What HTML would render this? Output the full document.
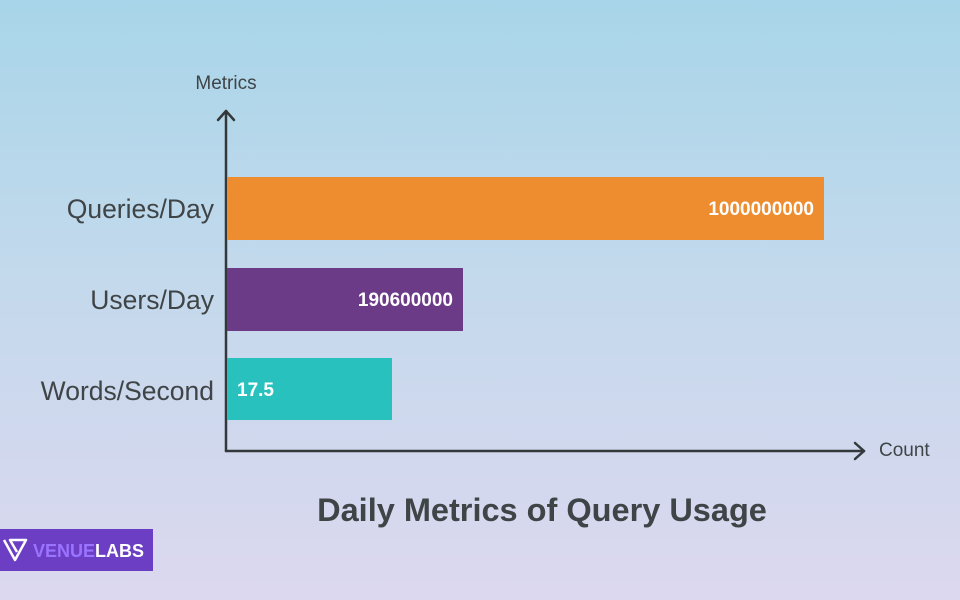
<!DOCTYPE html>
<html><head><style>
html,body{margin:0;padding:0}
body{width:960px;height:600px;overflow:hidden;background:linear-gradient(180deg,#a8d5e9 0%,#c3d9ec 45%,#dcd8ef 100%);font-family:"Liberation Sans",sans-serif;position:relative}
</style></head><body>
<svg width="960" height="600" style="position:absolute;left:0;top:0">
<g stroke="#33383b" stroke-width="2.5" fill="none" stroke-linecap="round" stroke-linejoin="round">
<line x1="226" y1="111" x2="226" y2="451"/>
<polyline points="218,120 226,111 234,120"/>
<line x1="226" y1="451" x2="864" y2="451"/>
<polyline points="855,443 864,451 855,459"/>
</g>
<rect x="227" y="177" width="597" height="63" fill="#ee8d30"/>
<rect x="227" y="268" width="236" height="63" fill="#6c3b88"/>
<rect x="227" y="358" width="165" height="62" fill="#29c1bd"/>
<g font-family="Liberation Sans, sans-serif" font-weight="bold" font-size="19" fill="#fff">
<text x="814" y="215" text-anchor="end">1000000000</text>
<text x="453" y="306" text-anchor="end">190600000</text>
<text x="237" y="396">17.5</text>
</g>
<g font-family="Liberation Sans, sans-serif" font-size="26.5" fill="#3f4447" text-anchor="end">
<text x="214" y="218">Queries/Day</text>
<text x="214" y="309">Users/Day</text>
<text x="214" y="400">Words/Second</text>
</g>
<text x="226" y="89" font-size="19" fill="#3f4447" text-anchor="middle" font-family="Liberation Sans, sans-serif">Metrics</text>
<text x="879" y="456" font-size="19" fill="#3f4447" font-family="Liberation Sans, sans-serif">Count</text>
<text x="542" y="521" font-size="32.5" font-weight="bold" fill="#3f4447" text-anchor="middle" font-family="Liberation Sans, sans-serif">Daily Metrics of Query Usage</text>
<rect x="0" y="529" width="153" height="42" fill="#6b3ec4"/>
<polyline points="4,540 15,560 26,540 10,540 17,552" fill="none" stroke="#fff" stroke-width="2.5" stroke-linejoin="round"/>
<text x="33" y="557" font-size="18" font-weight="bold" font-family="Liberation Sans, sans-serif"><tspan fill="#9a73ff">VENUE</tspan><tspan fill="#fff">LABS</tspan></text>
</svg>
</body></html>
